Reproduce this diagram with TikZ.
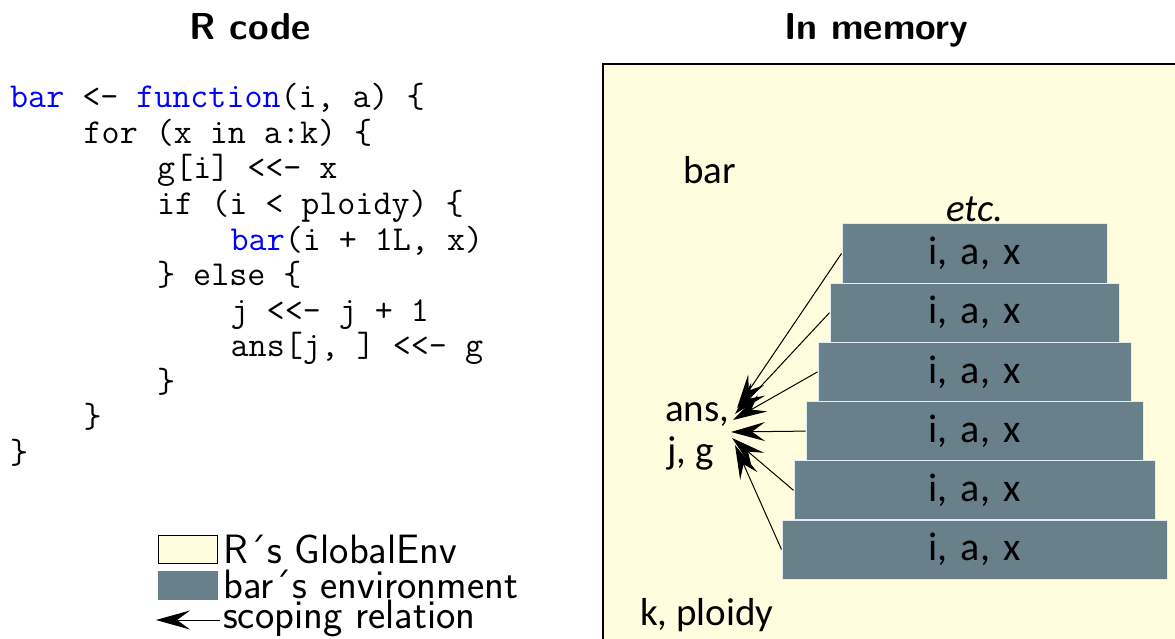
\documentclass[tikz,border=0pt]{standalone}
\usepackage{fontspec}
\newfontfamily\calfont{Carlito}
\usetikzlibrary{arrows.meta}
\definecolor{globalenv}{RGB}{255,253,222}
\definecolor{barenv}{RGB}{104,128,137}
\definecolor{envedge}{RGB}{225,235,242}
\definecolor{rblue}{RGB}{0,0,255}
\newcommand{\kw}[1]{\textcolor{rblue}{#1}}

\begin{document}
\begin{tikzpicture}[x=1pt,y=-1pt,
  codeline/.style={anchor=base west, inner sep=0pt, font=\fontsize{35}{36}\selectfont\ttfamily},
  heading/.style={anchor=base, inner sep=0pt, font=\fontsize{37.5}{40}\selectfont\sffamily\bfseries},
  legendtext/.style={anchor=base west, inner sep=0pt, font=\fontsize{41}{36}\selectfont\sffamily},
  memtext/.style={inner sep=0pt, font=\fontsize{39}{43}\selectfont\calfont},
  envbox/.style={fill=barenv, draw=envedge, line width=1pt, inner sep=0pt,
                 minimum height=59pt, font=\fontsize{40}{43}\selectfont\calfont},
  scoperel/.style={-{Stealth[length=34pt,width=19pt,inset=13pt]}, line width=1pt}
]
\useasboundingbox (0,0) rectangle (1175,639);
\clip (0,0) rectangle (1175,639);

% headings
\node[heading] (tcode) at (250,40) {R code};
\node[heading] (tmem) at (876,40) {In memory};

% the R source
\def\cw{18.375}
\node[codeline] (c1)  at (10,108)            {\kw{bar} <- \kw{function}(i, a) \{};
\node[codeline] (c2)  at (10+4*\cw,143.5)    {for (x in a:k) \{};
\node[codeline] (c3)  at (10+8*\cw,179.0)    {g[i] <<- x};
\node[codeline] (c4)  at (10+8*\cw,214.5)    {if (i < ploidy) \{};
\node[codeline] (c5)  at (10+12*\cw,250.0)   {\kw{bar}(i + 1L, x)};
\node[codeline] (c6)  at (10+8*\cw,285.5)    {\} else \{};
\node[codeline] (c7)  at (10+12*\cw,321.0)   {j <<- j + 1};
\node[codeline] (c8)  at (10+12*\cw,356.5)   {ans[j, ] <<- g};
\node[codeline] (c9)  at (10+8*\cw,392.0)    {\}};
\node[codeline] (c10) at (10+4*\cw,427.5)    {\}};
\node[codeline] (c11) at (10,463.0)          {\}};

% legend
\node[draw=black, fill=globalenv, line width=1pt, inner sep=0pt,
      minimum width=59pt, minimum height=28pt, anchor=north west] (lgglob) at (158,535) {};
\node[fill=barenv, inner sep=0pt, minimum width=60pt, minimum height=29pt,
      anchor=north west] (lgbar) at (157.5,571) {};
\coordinate (lgfrom) at (220,620);
\coordinate (lgto) at (156,620);
\draw[scoperel] (lgfrom) -- (lgto);
\node[legendtext] (lgt1) at (223,563) {R´s GlobalEnv};
\node[legendtext] (lgt2) at (223,598) {bar´s environment};
\node[legendtext] (lgt3) at (223,628) {scoping relation};

% the global environment
\draw[fill=globalenv, line width=1.8pt] (603,64) rectangle (1200,670);
\node[memtext, anchor=base west] (vbar) at (683,184) {bar};
\node[memtext, anchor=base west] (vans) at (665,421) {ans,};
\node[memtext, anchor=base west] (vjg) at (667,463) {j, g};
\node[memtext, anchor=base west] (vk) at (640,625) {k, ploidy};

% stacked environments of the recursive calls
\foreach \k in {1,...,6} {
  \pgfmathsetmacro{\w}{265+24*(\k-1)}
  \pgfmathsetmacro{\yc}{253.5+59.2*(\k-1)}
  \node[envbox, minimum width=\w pt] (e\k) at (974.5,\yc) {i,\,\,a,\,\,x};
}
\node[memtext, anchor=base, font=\fontsize{39}{43}\selectfont\calfont\itshape] (etc) at (975,222) {etc.};

% scoping arrows into the global environment
\coordinate (tip1) at (737,408);
\coordinate (tip2) at (735,414);
\coordinate (tip3) at (733,420);
\coordinate (tip4) at (731,432);
\coordinate (tip5) at (732,438);
\coordinate (tip6) at (735,445);
\foreach \k in {1,...,6} {
  \draw[scoperel] (e\k.west) -- (tip\k);
}
\end{tikzpicture}
\end{document}
